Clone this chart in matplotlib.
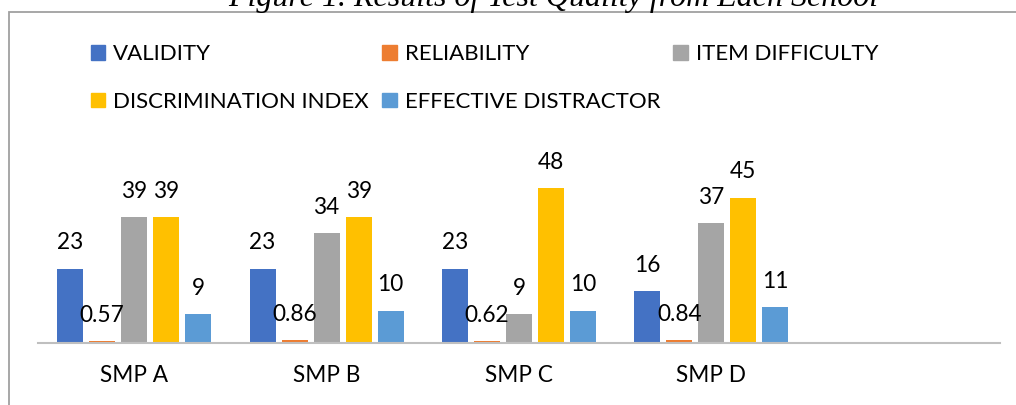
import numpy as np
import matplotlib
matplotlib.use("Agg")
from matplotlib import pyplot
from matplotlib.patches import Rectangle, Patch

# data
schools = ["SMP A", "SMP B", "SMP C", "SMP D"]
series = ["VALIDITY", "RELIABILITY", "ITEM DIFFICULTY",
          "DISCRIMINATION INDEX", "EFFECTIVE DISTRACTOR"]
validity = [23, 23, 23, 16]
reliability = [0.57, 0.86, 0.62, 0.84]
item_difficulty = [39, 34, 9, 37]
discrimination = [39, 39, 48, 45]
effective_distractor = [9, 10, 10, 11]

colors = ["#4472C4", "#ED7D31", "#A5A5A5", "#FFC000", "#5B9BD5"]

pyplot.rcParams['font.family'] = ['Lato', 'DejaVu Sans']

W, H = 1016, 405
fig = pyplot.figure(figsize=(W / 100, H / 100), dpi=100)

# outer chart frame (cut off at right and bottom)
fig.patches.append(Rectangle((9 / W, -0.05), 1.1, 1.05 - 12 / H, transform=fig.transFigure,
                             fill=False, edgecolor="#A0A0A0", linewidth=1.3))

# caption sits above the frame and is clipped by the top edge
fig.text(553 / W, 1 - 6 / H, "Figure 1. Results of Test Quality from Each School",
         ha="center", va="baseline", fontsize=23, style="italic",
         family=["Liberation Serif", "DejaVu Serif"])

ax = fig.add_axes([38 / W, (H - 343) / H, (1000 - 38) / W, 194 / H])

values = [validity, reliability, item_difficulty, discrimination, effective_distractor]
x = np.arange(len(schools))
step = 0.1663
width = 0.135
for i, (name, vals, c) in enumerate(zip(series, values, colors)):
    pos = x + (i - 2) * step
    ax.bar(pos, vals, width, color=c, label=name)
    for p, v in zip(pos, vals):
        ax.annotate(f"{v:g}", (p, v), xytext=(0, 18.5), textcoords="offset points",
                    ha="center", va="center", fontsize=16.3)

ax.set_xlim(-0.5, 4.5)
ax.set_ylim(0, 60)
ax.set_xticks(x)
ax.set_xticklabels(schools, fontsize=16.3)
ax.tick_params(axis="x", length=0, pad=16)
ax.set_yticks([])
for s in ["top", "right", "left"]:
    ax.spines[s].set_visible(False)
ax.spines["bottom"].set_color("#BFBFBF")
ax.spines["bottom"].set_linewidth(1.5)

# legend laid out row by row like the original
handles = [Patch(color=c) for c in colors]
order = [0, 3, 1, 4, 2]
fig.legend([handles[k] for k in order], [series[k] for k in order],
           ncol=3, loc="upper left", bbox_to_anchor=(91 / W, 1 - 44 / H),
           frameon=False, fontsize=16, borderpad=0, borderaxespad=0,
           handlelength=0.65, handleheight=0.65, handletextpad=0.35,
           labelspacing=1.25, columnspacing=0.6)

fig.savefig("out.png", dpi=100)
